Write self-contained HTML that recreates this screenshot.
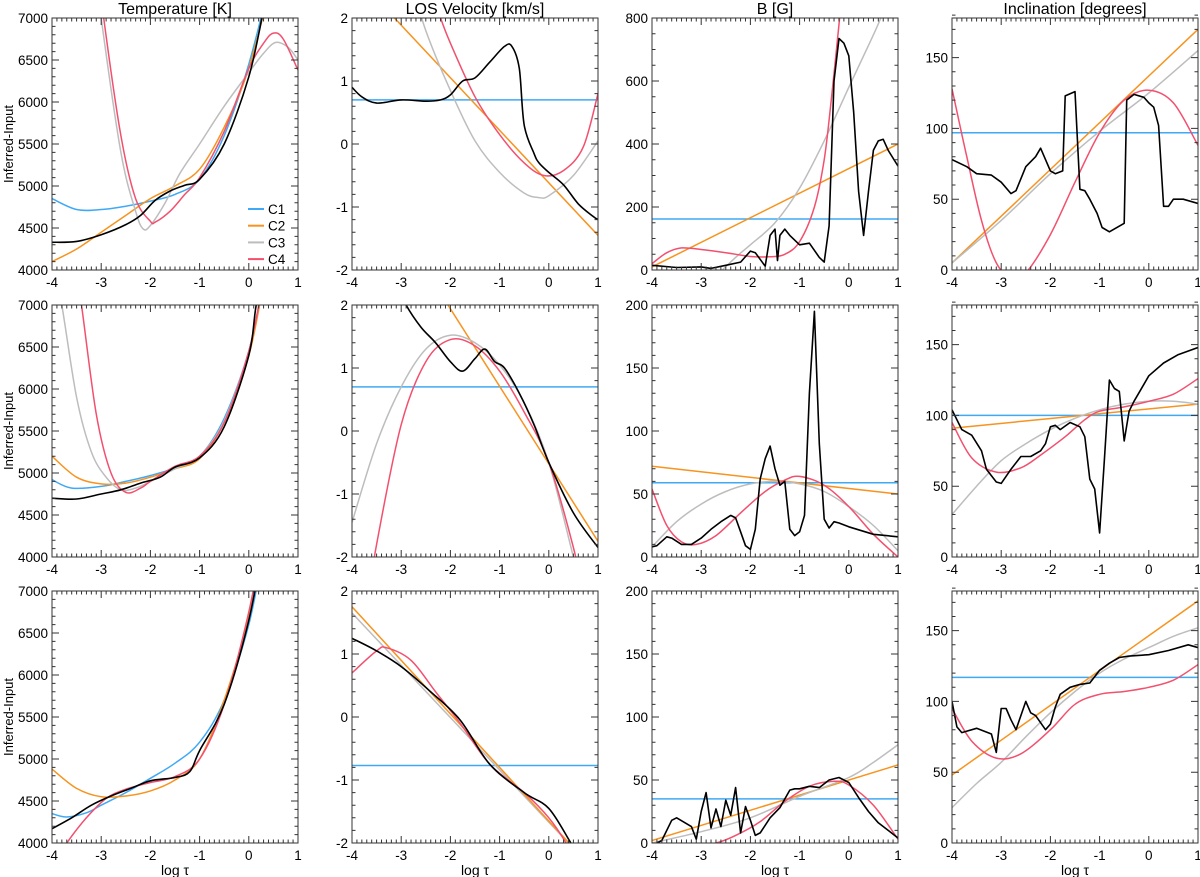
<!DOCTYPE html>
<html><head><meta charset="utf-8"><style>
body{margin:0;background:#fff}
svg{display:block;font-family:"Liberation Sans",sans-serif}
</style></head><body>
<svg id="fig" width="1200" height="877" viewBox="0 0 1200 877" xmlns="http://www.w3.org/2000/svg"></svg>
<script>
// ---- data (x = log tau, y = inferred - input) ----
const LINE_X=[-4,1];
// Row 1
const T1_C1_X=[-4,-3.5,-3,-2.5,-2,-1.5,-1,-0.5,0,0.5,1], T1_C1_Y=[4850,4720,4720,4760,4820,4900,5080,5600,6450,7600,8800];
const T1_C2_X=[-4,-3.5,-3,-2.5,-2,-1.5,-1,-0.5,0,0.5,1], T1_C2_Y=[4100,4250,4450,4650,4850,5000,5200,5700,6400,7500,8500];
const T1_C3_X=[-3.2,-3,-2.6,-2.3,-2.15,-2,-1.7,-1.4,-1,-0.5,0,0.3,0.55,0.8,1], T1_C3_Y=[8000,7000,5400,4700,4490,4530,4800,5150,5500,5950,6350,6580,6710,6650,6500];
const T1_C4_X=[-3.1,-2.95,-2.6,-2.3,-2.0,-1.9,-1.6,-1.3,-1,-0.5,0,0.3,0.5,0.7,1], T1_C4_Y=[7800,7000,5600,4850,4580,4570,4700,4900,5100,5650,6400,6700,6820,6750,6380];
const T1_OBS_X=[-4,-3.5,-3,-2.5,-2.2,-1.9,-1.6,-1.3,-1,-0.5,0,0.3], T1_OBS_Y=[4330,4340,4420,4540,4650,4830,4940,5010,5080,5500,6300,7100];

const V1_C1_Y=[0.7,0.7], V1_C2_Y=[2.72,-1.45];
const V1_C3_X=[-2.8,-2.5,-2,-1.5,-1,-0.5,-0.2,0,0.5,1], V1_C3_Y=[2.6,1.8,0.85,0.05,-0.45,-0.78,-0.85,-0.82,-0.5,0.05];
const V1_C4_X=[-2.4,-2.2,-2,-1.5,-1,-0.5,-0.1,0.3,0.7,1], V1_C4_Y=[2.5,2,1.6,0.75,0.15,-0.3,-0.5,-0.42,-0.05,0.8];
const V1_OBS_X=[-4,-3.8,-3.5,-3,-2.5,-2.2,-2,-1.75,-1.5,-1.2,-0.9,-0.75,-0.6,-0.5,-0.3,-0.2,0,0.3,0.6,0.9,1], V1_OBS_Y=[0.9,0.75,0.65,0.7,0.68,0.7,0.78,1.0,1.05,1.3,1.55,1.55,1.2,0.3,-0.15,-0.3,-0.45,-0.65,-0.95,-1.15,-1.2];

const B1_C1_Y=[162,162], B1_C2_Y=[10,400];
const B1_C3_X=[-2.7,-2.3,-2,-1.5,-1,-0.5,0,0.3,0.65,1], B1_C3_Y=[-20,40,80,150,260,410,580,680,800,950];
const B1_C4_X=[-4,-3.7,-3.4,-3,-2.5,-2,-1.6,-1.3,-1.0,-0.7,-0.5,-0.35,-0.2,-0.1], B1_C4_Y=[20,55,70,65,55,43,42,50,90,200,350,550,780,950];
const B1_OBS_X=[-4,-3.5,-3,-2.8,-2.5,-2.2,-2.0,-1.9,-1.7,-1.6,-1.5,-1.45,-1.4,-1.3,-1.2,-1.0,-0.8,-0.6,-0.5,-0.4,-0.3,-0.2,-0.1,0,0.1,0.2,0.3,0.4,0.5,0.6,0.7,0.8,1], B1_OBS_Y=[15,8,10,5,15,25,60,55,12,110,130,30,110,130,110,80,85,40,25,140,600,735,720,680,500,250,110,250,380,410,415,380,330];

const I1_C1_Y=[97,97], I1_C2_Y=[5,170];
const I1_C3_X=[-4,-3,-2,-1,0,1], I1_C3_Y=[5,35,68,98,125,155];
const I1_C4_X=[-4,-3.7,-3.4,-3.1,-2.8,-2.5,-2,-1.5,-1,-0.5,0,0.5,1], I1_C4_Y=[128,80,35,5,-5,-2,25,62,97,120,127,118,88];
const I1_OBS_X=[-4,-3.7,-3.5,-3.2,-3,-2.8,-2.7,-2.5,-2.3,-2.2,-2,-1.9,-1.75,-1.7,-1.5,-1.4,-1.3,-1.2,-1.05,-0.95,-0.8,-0.5,-0.45,-0.3,-0.1,0,0.1,0.2,0.3,0.4,0.5,0.7,1], I1_OBS_Y=[78,73,68,67,62,54,56,73,80,86,70,68,70,123,126,57,56,50,40,30,27,33,120,124,122,118,115,102,45,45,50,50,47];

// Row 2
const T2_C1_X=[-4,-3.6,-3,-2.5,-2,-1.5,-1,-0.5,0,0.3,0.6], T2_C1_Y=[4920,4820,4840,4900,4970,5060,5200,5650,6450,7300,8200];
const T2_C2_X=[-4,-3.5,-3,-2.5,-2,-1.5,-1,-0.5,0,0.3,0.6], T2_C2_Y=[5200,4950,4870,4880,4950,5050,5170,5600,6400,7250,8100];
const T2_C3_X=[-4.1,-3.8,-3.5,-3.2,-2.9,-2.6,-2.3,-2,-1.5,-1,-0.5,0,0.3], T2_C3_Y=[8000,7000,5900,5250,4950,4800,4820,4900,5050,5200,5620,6450,7300];
const T2_C4_X=[-3.6,-3.4,-3.1,-2.8,-2.5,-2.2,-2,-1.5,-1,-0.5,0,0.3], T2_C4_Y=[7800,7000,5700,5000,4770,4820,4900,5080,5200,5600,6450,7300];
const T2_OBS_X=[-4,-3.5,-3,-2.6,-2.2,-1.8,-1.5,-1,-0.5,0,0.15,0.4], T2_OBS_Y=[4700,4690,4750,4800,4880,4950,5070,5180,5550,6400,7000,7800];

const V2_C1_Y=[0.7,0.7], V2_C2_Y=[4.4,-1.75];
const V2_C3_X=[-4,-3.5,-3,-2.5,-2,-1.5,-1,-0.5,0,0.5], V2_C3_Y=[-1.45,-0.2,0.7,1.3,1.52,1.4,1.05,0.45,-0.5,-2.0];
const V2_C4_X=[-3.7,-3.5,-3,-2.5,-2,-1.5,-1,-0.5,0,0.5,0.7], V2_C4_Y=[-2.8,-1.8,0.1,1.1,1.45,1.35,0.95,0.3,-0.5,-1.85,-2.6];
const V2_OBS_X=[-3.2,-2.9,-2.6,-2.3,-2,-1.75,-1.5,-1.3,-1.1,-0.9,-0.6,-0.3,0,0.5,1], V2_OBS_Y=[2.5,2.0,1.65,1.4,1.1,0.95,1.15,1.3,1.1,1.0,0.6,0.1,-0.5,-1.3,-1.85];

const B2_C1_Y=[59,59], B2_C2_Y=[72,50];
const B2_C3_X=[-4,-3.5,-3,-2.5,-2,-1.5,-1,-0.5,0,0.5,1], B2_C3_Y=[8,28,42,52,58,60,58,52,40,25,5];
const B2_C4_X=[-4,-3.7,-3.4,-3.1,-2.7,-2.2,-1.7,-1.3,-1,-0.5,0,0.5,1], B2_C4_Y=[54,25,12,10,17,35,52,61,64,57,40,18,0];
const B2_OBS_X=[-4,-3.9,-3.7,-3.6,-3.4,-3.2,-3,-2.8,-2.6,-2.4,-2.3,-2.2,-2.1,-2,-1.9,-1.8,-1.7,-1.6,-1.5,-1.4,-1.3,-1.2,-1.1,-1,-0.9,-0.8,-0.7,-0.6,-0.5,-0.4,-0.3,-0.2,0,0.5,1], B2_OBS_Y=[8,9,16,15,10,10,15,22,28,33,31,20,9,6,22,62,78,88,70,57,60,22,17,20,33,130,195,90,30,23,28,27,24,18,16];

const I2_C1_Y=[100,100], I2_C2_Y=[91,108];
const I2_C3_X=[-4,-3.5,-3,-2.5,-2,-1.5,-1,-0.5,0,0.5,1], I2_C3_Y=[30,50,68,80,90,98,104,108,110,110,108];
const I2_C4_X=[-4,-3.6,-3.1,-2.6,-2.2,-1.7,-1.3,-1,-0.5,0,0.5,1], I2_C4_Y=[95,70,60,63,72,85,97,103,106,110,115,126];
const I2_OBS_X=[-4,-3.8,-3.6,-3.4,-3.3,-3.1,-3,-2.8,-2.6,-2.4,-2.2,-2.1,-2,-1.9,-1.8,-1.6,-1.4,-1.3,-1.2,-1.1,-1.0,-0.9,-0.8,-0.7,-0.6,-0.5,-0.4,-0.3,-0.1,0,0.3,0.6,1], I2_OBS_Y=[104,90,86,75,62,53,52,62,71,71,75,80,92,93,90,95,92,85,55,48,17,70,125,119,117,82,103,110,122,128,137,143,148];

// Row 3
const T3_C1_X=[-4,-3.7,-3.3,-3,-2.5,-2,-1.5,-1,-0.5,0,0.3], T3_C1_Y=[4350,4310,4360,4450,4600,4770,4950,5200,5700,6600,7500];
const T3_C2_X=[-4,-3.5,-3,-2.5,-2,-1.5,-1,-0.5,0,0.3], T3_C2_Y=[4880,4650,4550,4560,4620,4750,5000,5700,6700,7700];
const T3_C4_X=[-3.9,-3.7,-3.3,-2.9,-2.5,-2,-1.5,-1,-0.5,0,0.3], T3_C4_Y=[3800,4000,4300,4530,4640,4720,4790,5000,5650,6750,7700];
const T3_OBS_X=[-4,-3.6,-3.2,-2.8,-2.4,-2,-1.5,-1.2,-1,-0.5,0,0.3], T3_OBS_Y=[4170,4300,4450,4560,4650,4740,4780,4850,5100,5650,6650,7600];

const V3_C1_Y=[-0.77,-0.77], V3_C2_Y=[1.75,-2.5], V3_C3_Y=[1.65,-2.5];
const V3_C4_X=[-4,-3.5,-3.3,-2.8,-2.3,-1.8,-1.2,-0.5,0,0.35,0.6], V3_C4_Y=[0.7,1.05,1.1,0.9,0.4,-0.1,-0.75,-1.2,-1.6,-2,-2.4];
const V3_OBS_X=[-4,-3.5,-3,-2.4,-1.8,-1.2,-0.5,0,0.45,0.7], V3_OBS_Y=[1.25,1.05,0.8,0.4,-0.05,-0.75,-1.2,-1.45,-2,-2.3];

const B3_C1_Y=[35,35], B3_C2_Y=[2,62];
const B3_C3_X=[-4,-3,-2,-1,0,0.5,1], B3_C3_Y=[0,9,20,37,52,64,78];
const B3_C4_X=[-4,-3.5,-3,-2.7,-2.3,-1.8,-1.3,-0.8,-0.3,0,0.5,1], B3_C4_Y=[-1,-1,-1,0,6,17,33,45,49,46,30,3];
const B3_OBS_X=[-4,-3.8,-3.6,-3.5,-3.2,-3.1,-3.0,-2.9,-2.8,-2.7,-2.6,-2.5,-2.4,-2.3,-2.2,-2.1,-2.0,-1.9,-1.8,-1.6,-1.4,-1.2,-1.1,-1,-0.8,-0.6,-0.4,-0.2,0,0.2,0.4,0.6,0.8,1], B3_OBS_Y=[-2,2,18,20,13,3,25,40,12,27,13,34,22,44,8,29,18,6,8,20,28,42,43,43,45,44,50,52,48,36,25,16,10,4];

const I3_C1_Y=[117,117], I3_C2_Y=[48,171];
const I3_C3_X=[-4,-3.5,-3,-2.5,-2,-1.5,-1,-0.5,0,0.5,1], I3_C3_Y=[25,42,57,75,92,107,120,130,138,146,152];
const I3_C4_X=[-4,-3.6,-3.1,-2.6,-2,-1.5,-1,-0.5,0,0.5,1], I3_C4_Y=[95,72,60,63,80,98,105,107,110,115,126];
const I3_OBS_X=[-4,-3.9,-3.8,-3.5,-3.2,-3.1,-3.0,-2.9,-2.8,-2.7,-2.5,-2.4,-2.3,-2.1,-2.0,-1.9,-1.8,-1.6,-1.4,-1.2,-1.0,-0.8,-0.6,-0.4,0,0.4,0.8,1], I3_OBS_Y=[100,82,78,81,77,64,95,95,87,80,100,92,90,80,84,96,105,110,112,113,122,127,131,132,133,136,140,138];

const TITLES=["Temperature [K]","LOS Velocity [km/s]","B [G]","Inclination [degrees]"];
const X_TICKS=[-4,-3,-2,-1,0,1];
const LEGEND_LABELS=["C1","C2","C3","C4"];

// ---- layout ----
const NS="http://www.w3.org/2000/svg";
const svg=document.getElementById('fig');
const LEFTS=[52,352,652,952], TOPS=[18,305,591], W=246, H=252;
const COL={c1:"#3fa9f5",c2:"#f7931e",c3:"#bdbdbd",c4:"#f2506e",obs:"#000"};
function mk(tag,attrs,parent){const e=document.createElementNS(NS,tag);for(const k in attrs)e.setAttribute(k,attrs[k]);(parent||svg).appendChild(e);return e;}
function xs(c,x){return LEFTS[c]+(x+4)/5*W;}
function ys(r,ax,y){return TOPS[r]+H*(1-(y-ax.min)/(ax.max-ax.min));}
function smoothPath(pts){
  if(pts.length<3)return "M"+pts.map(p=>p[0].toFixed(1)+","+p[1].toFixed(1)).join("L");
  let d="M"+pts[0][0].toFixed(1)+","+pts[0][1].toFixed(1);
  for(let i=0;i<pts.length-1;i++){
    const p0=pts[i-1]||pts[i],p1=pts[i],p2=pts[i+1],p3=pts[i+2]||p2;
    const c1=[p1[0]+(p2[0]-p0[0])/6,p1[1]+(p2[1]-p0[1])/6],c2=[p2[0]-(p3[0]-p1[0])/6,p2[1]-(p3[1]-p1[1])/6];
    d+="C"+c1[0].toFixed(1)+","+c1[1].toFixed(1)+" "+c2[0].toFixed(1)+","+c2[1].toFixed(1)+" "+p2[0].toFixed(1)+","+p2[1].toFixed(1);
  }
  return d;
}
const AX={
 T:{min:4000,max:7000,major:500,minor:100},
 V:{min:-2,max:2,major:1,minor:0.2},
 B1:{min:0,max:800,major:200,minor:50},
 B:{min:0,max:200,major:50,minor:10},
 I:{min:0,max:178,major:50,minor:10}
};
const PANELS=[
 {r:0,c:0,ax:AX.T,s:[["c1",T1_C1_X,T1_C1_Y],["c2",T1_C2_X,T1_C2_Y],["c3",T1_C3_X,T1_C3_Y],["c4",T1_C4_X,T1_C4_Y],["obs",T1_OBS_X,T1_OBS_Y]],sm:true},
 {r:0,c:1,ax:AX.V,s:[["c1",LINE_X,V1_C1_Y],["c2",LINE_X,V1_C2_Y],["c3",V1_C3_X,V1_C3_Y],["c4",V1_C4_X,V1_C4_Y],["obs",V1_OBS_X,V1_OBS_Y]],sm:true},
 {r:0,c:2,ax:AX.B1,s:[["c1",LINE_X,B1_C1_Y],["c2",LINE_X,B1_C2_Y],["c3",B1_C3_X,B1_C3_Y],["c4",B1_C4_X,B1_C4_Y],["obs",B1_OBS_X,B1_OBS_Y]],sm:false},
 {r:0,c:3,ax:AX.I,s:[["c1",LINE_X,I1_C1_Y],["c2",LINE_X,I1_C2_Y],["c3",I1_C3_X,I1_C3_Y],["c4",I1_C4_X,I1_C4_Y],["obs",I1_OBS_X,I1_OBS_Y]],sm:false},
 {r:1,c:0,ax:AX.T,s:[["c1",T2_C1_X,T2_C1_Y],["c2",T2_C2_X,T2_C2_Y],["c3",T2_C3_X,T2_C3_Y],["c4",T2_C4_X,T2_C4_Y],["obs",T2_OBS_X,T2_OBS_Y]],sm:true},
 {r:1,c:1,ax:AX.V,s:[["c1",LINE_X,V2_C1_Y],["c2",LINE_X,V2_C2_Y],["c3",V2_C3_X,V2_C3_Y],["c4",V2_C4_X,V2_C4_Y],["obs",V2_OBS_X,V2_OBS_Y]],sm:true},
 {r:1,c:2,ax:AX.B,s:[["c1",LINE_X,B2_C1_Y],["c2",LINE_X,B2_C2_Y],["c3",B2_C3_X,B2_C3_Y],["c4",B2_C4_X,B2_C4_Y],["obs",B2_OBS_X,B2_OBS_Y]],sm:false},
 {r:1,c:3,ax:AX.I,s:[["c1",LINE_X,I2_C1_Y],["c2",LINE_X,I2_C2_Y],["c3",I2_C3_X,I2_C3_Y],["c4",I2_C4_X,I2_C4_Y],["obs",I2_OBS_X,I2_OBS_Y]],sm:false},
 {r:2,c:0,ax:AX.T,s:[["c1",T3_C1_X,T3_C1_Y],["c2",T3_C2_X,T3_C2_Y],["c4",T3_C4_X,T3_C4_Y],["obs",T3_OBS_X,T3_OBS_Y]],sm:true},
 {r:2,c:1,ax:AX.V,s:[["c1",LINE_X,V3_C1_Y],["c3",LINE_X,V3_C3_Y],["c2",LINE_X,V3_C2_Y],["c4",V3_C4_X,V3_C4_Y],["obs",V3_OBS_X,V3_OBS_Y]],sm:true},
 {r:2,c:2,ax:AX.B,s:[["c1",LINE_X,B3_C1_Y],["c2",LINE_X,B3_C2_Y],["c3",B3_C3_X,B3_C3_Y],["c4",B3_C4_X,B3_C4_Y],["obs",B3_OBS_X,B3_OBS_Y]],sm:false},
 {r:2,c:3,ax:AX.I,s:[["c1",LINE_X,I3_C1_Y],["c2",LINE_X,I3_C2_Y],["c3",I3_C3_X,I3_C3_Y],["c4",I3_C4_X,I3_C4_Y],["obs",I3_OBS_X,I3_OBS_Y]],sm:false}
];
const defs=mk('defs',{});
PANELS.forEach((p,i)=>{
  const L=LEFTS[p.c],T=TOPS[p.r],ax=p.ax;
  const g=mk('g',{});
  
  
  const cp=mk('clipPath',{id:'cp'+i},defs);mk('rect',{x:L,y:T,width:W,height:H},cp);
  const lg=mk('g',{'clip-path':'url(#cp'+i+')'},g);
  p.s.forEach(s=>{
    const pts=s[1].map((x,k)=>[xs(p.c,x),ys(p.r,ax,s[2][k])]);
    const d=(s[0]==="obs"&&!p.sm)?"M"+pts.map(q=>q[0].toFixed(1)+","+q[1].toFixed(1)).join("L"):smoothPath(pts);
    const e=mk('path',{d:d,fill:'none',stroke:COL[s[0]],'stroke-width':s[0]==="obs"?1.6:1.5,'stroke-linejoin':'round'},lg);
    
    
  });
  const fr=mk('rect',{x:L,y:T,width:W,height:H,fill:'none',stroke:'#333','stroke-width':1},g);
  
  
  let d="";
  for(let k=0;k<=50;k++){const x=-4+k*0.1;const px=xs(p.c,x);const len=(k%10===0)?7:3.5;d+=`M${px},${T+H}v${-len}M${px},${T}v${len}`;}
  const nMin=Math.round((ax.max-ax.min)/ax.minor);
  for(let k=0;k<=nMin;k++){const y=ax.min+k*ax.minor;const py=ys(p.r,ax,y);const maj=Math.abs(y/ax.major-Math.round(y/ax.major))<1e-6;const len=maj?7:3.5;d+=`M${L},${py}h${len}M${L+W},${py}h${-len}`;}
  mk('path',{d:d,stroke:'#333','stroke-width':1,fill:'none'},g);
  X_TICKS.forEach(x=>{const t=mk('text',{x:xs(p.c,x),y:T+H+17,'font-size':13.5,'text-anchor':'middle',fill:'#000'},g);t.textContent=x;
    });
  for(let y=Math.ceil(ax.min/ax.major)*ax.major;y<=ax.max+1e-9;y+=ax.major){
    const t=mk('text',{x:L-4,y:ys(p.r,ax,y)+5,'font-size':13.5,'text-anchor':'end',fill:'#000'},g);t.textContent=Math.round(y);
    }
});
TITLES.forEach((s,c)=>{const t=mk('text',{x:LEFTS[c]+W/2,y:14,'font-size':16,'text-anchor':'middle',fill:'#000'});t.textContent=s;
  });
TOPS.forEach(T=>{const t=mk('text',{x:0,y:0,'font-size':13,'text-anchor':'middle',fill:'#000',transform:`translate(13,${T+H/2}) rotate(-90)`});t.textContent="Inferred-Input";
  });
LEFTS.forEach(L=>{const t=mk('text',{x:L+W/2,y:TOPS[2]+H+32,'font-size':14,'text-anchor':'middle',fill:'#000'});t.textContent="log τ";
  });
const lgG=mk('g',{});


["c1","c2","c3","c4"].forEach((k,i)=>{
  const y=209+i*16.7;
  const ln=mk('line',{x1:248,x2:264,y1:y,y2:y,stroke:COL[k],'stroke-width':2},lgG);
  
  
  const t=mk('text',{x:268,y:y+5,'font-size':13.5,fill:'#000'},lgG);t.textContent=LEGEND_LABELS[i];
  
  
});
</script>
</body></html>
